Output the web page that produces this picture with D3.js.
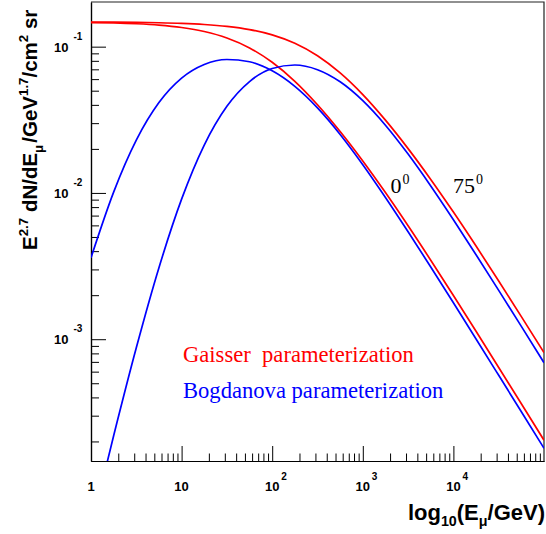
<!DOCTYPE html>
<html>
<head>
<meta charset="utf-8">
<script src="https://cdn.jsdelivr.net/npm/d3@7"></script>
<style>
  body { margin: 0; background: #fff; }
  svg { display: block; }
</style>
</head>
<body>
<svg id="chart" width="546" height="534"></svg>
<script>
// Muon energy (GeV), quarter-decade steps from 1 GeV to 100 TeV
const energy = [1, 1.778, 3.162, 5.623, 10, 17.78, 31.62, 56.23, 100, 177.8, 316.2,
                562.3, 1000, 1778, 3162, 5623, 10000, 17783, 31623, 56234, 100000];

// E^2.7 dN/dE, Gaisser parameterization, zenith 0 deg and 75 deg
const gaisser0 = [0.1462, 0.1452, 0.1434, 0.1404, 0.1352, 0.1270, 0.1147, 0.0981, 0.0782,
                  0.0580, 0.0401, 0.0263, 0.01654, 0.01006, 0.005962, 0.003467, 0.001990,
                  0.001132, 0.000641, 0.000362, 0.000204];
const gaisser75 = [0.1472, 0.1470, 0.1465, 0.1457, 0.1443, 0.1418, 0.1376, 0.1308, 0.1203,
                   0.1054, 0.0866, 0.0661, 0.0470, 0.03144, 0.02009, 0.01237, 0.007402,
                   0.004334, 0.002499, 0.001427, 0.000809];

// E^2.7 dN/dE, Bogdanova parameterization, zenith 0 deg and 75 deg
const bogdanova0 = [0.003604, 0.01013, 0.02295, 0.04145, 0.06091, 0.07549, 0.08169, 0.07881,
                    0.06837, 0.05353, 0.03814, 0.02512, 0.01561, 0.009321, 0.005430, 0.003117,
                    0.001773, 0.001004, 0.0005665, 0.0003192, 0.0001797];
const bogdanova75 = [0.0000509, 0.0002189, 0.0008739, 0.003082, 0.009066, 0.02125, 0.03912,
                     0.05775, 0.07091, 0.07492, 0.06959, 0.05750, 0.04273, 0.02904, 0.01843,
                     0.01116, 0.006558, 0.003782, 0.002158, 0.001224, 0.000691];

// Tick labels
const xMajorTicks = [1, 10, 100, 1000, 10000];
const xTickBases = ["1", "10", "10", "10", "10"];
const xTickExponents = ["", "", "2", "3", "4"];
const yMajorTicks = [0.1, 0.01, 0.001];
const yTickExponents = ["-1", "-2", "-3"];

// Legend and angle labels
const legendLabels = ["Gaisser  parameterization", "Bogdanova parameterization"];
const angleLabels = ["0", "75"];

const RED = "#ff0000", BLUE = "#0000ff";
const SANS = "'Liberation Sans', Arial, Helvetica, sans-serif";
const SERIF = "'Liberation Serif', 'Times New Roman', Times, serif";

const W = 546, H = 534;
const plot = { left: 91, top: 2, right: 544, bottom: 461 };

const svg = d3.select("#chart");
svg.append("rect").attr("width", W).attr("height", H).attr("fill", "#fff");

const x = d3.scaleLog().domain([1, 1e5]).range([plot.left, plot.right]);
const y = d3.scaleLog().domain([1.47e-4, 0.202]).range([plot.bottom, plot.top]);

svg.append("defs").append("clipPath").attr("id", "plotClip")
  .append("rect")
  .attr("x", plot.left).attr("y", plot.top)
  .attr("width", plot.right - plot.left).attr("height", plot.bottom - plot.top);

// Helper: writes text made of normal / superscript / subscript pieces
function richText(textSel, parts, baseSize) {
  let offset = 0;
  parts.forEach(p => {
    const target = p.s === "sup" ? -0.45 * baseSize : p.s === "sub" ? 0.28 * baseSize : 0;
    const ts = textSel.append("tspan").text(p.t).attr("dy", target - offset);
    if (p.s) ts.attr("font-size", 0.65 * baseSize);
    if (p.dx) ts.attr("dx", p.dx);
    offset = target;
  });
  return textSel;
}

// Minor tick positions (2..9 within each decade)
const xMinor = [];
xMajorTicks.forEach(d => { for (let m = 2; m <= 9; m++) xMinor.push(d * m); });
const yMinor = [];
[1e-4, 1e-3, 1e-2].forEach(d => {
  for (let m = 2; m <= 9; m++) if (d * m >= y.domain()[0]) yMinor.push(d * m);
});

// Bottom axis (ticks pointing into the frame)
const gx = svg.append("g").attr("transform", `translate(0,${plot.bottom})`);
gx.call(d3.axisBottom(x).tickValues(xMajorTicks).tickSizeInner(-15).tickSizeOuter(0).tickFormat(""));
gx.append("g").call(d3.axisBottom(x).tickValues(xMinor).tickSizeInner(-7.5).tickSizeOuter(0).tickFormat(""));

// Left axis
const gy = svg.append("g").attr("transform", `translate(${plot.left},0)`);
gy.call(d3.axisLeft(y).tickValues(yMajorTicks).tickSizeInner(-15).tickSizeOuter(0).tickFormat(""));
gy.append("g").call(d3.axisLeft(y).tickValues(yMinor).tickSizeInner(-8).tickSizeOuter(0).tickFormat(""));

svg.selectAll(".domain").attr("stroke", "#000").attr("stroke-width", 1.2);
svg.selectAll(".tick line").attr("stroke", "#000").attr("stroke-width", 1);

// Top and right frame edges
svg.append("path")
  .attr("d", `M${plot.left},${plot.top}H${plot.right}V${plot.bottom}`)
  .attr("fill", "none").attr("stroke", "#222").attr("stroke-width", 1.2);

// X tick labels
xMajorTicks.forEach((v, i) => {
  const cx = x(v);
  svg.append("text")
    .attr("x", cx).attr("y", 490.5)
    .attr("text-anchor", "middle")
    .attr("font-family", SANS).attr("font-weight", "bold").attr("font-size", 13)
    .text(xTickBases[i]);
  if (xTickExponents[i]) {
    svg.append("text")
      .attr("x", cx + 9).attr("y", 480)
      .attr("font-family", SANS).attr("font-weight", "bold").attr("font-size", 10)
      .text(xTickExponents[i]);
  }
});

// Y tick labels
yMajorTicks.forEach((v, i) => {
  const cy = y(v);
  svg.append("text")
    .attr("x", 68.5).attr("y", cy + 5)
    .attr("text-anchor", "end")
    .attr("font-family", SANS).attr("font-weight", "bold").attr("font-size", 13)
    .text("10");
  svg.append("text")
    .attr("x", 73.5).attr("y", cy - 7)
    .attr("font-family", SANS).attr("font-weight", "bold").attr("font-size", 10)
    .text(yTickExponents[i]);
});

// Curves
const series = [
  { values: gaisser0, color: RED },
  { values: gaisser75, color: RED },
  { values: bogdanova0, color: BLUE },
  { values: bogdanova75, color: BLUE }
];
const line = d3.line()
  .x((d, i) => x(energy[i]))
  .y(d => y(d))
  .curve(d3.curveMonotoneX);

svg.append("g").attr("clip-path", "url(#plotClip)")
  .selectAll("path")
  .data(series)
  .join("path")
  .attr("d", s => line(s.values))
  .attr("fill", "none")
  .attr("stroke", s => s.color)
  .attr("stroke-width", 1.7);

// Legend text
[[legendLabels[0], RED, 361.5], [legendLabels[1], BLUE, 398]].forEach(([t, c, yy]) => {
  svg.append("text")
    .attr("x", 183).attr("y", yy)
    .attr("xml:space", "preserve").style("white-space", "pre")
    .attr("font-family", SERIF).attr("font-size", 22.6)
    .attr("fill", c)
    .text(t);
});

// Zenith angle labels
[[angleLabels[0], 390.5], [angleLabels[1], 453]].forEach(([t, xx]) => {
  const tx = svg.append("text")
    .attr("x", xx).attr("y", 193.3)
    .attr("font-family", SERIF).attr("font-size", 22)
    .attr("fill", "#000");
  tx.append("tspan").text(t);
  tx.append("tspan").text("0").attr("font-size", 14).attr("dy", -9.5).attr("dx", 1);
});

// Y axis title
const yTitle = svg.append("text")
  .attr("transform", "translate(37,250) rotate(-90)")
  .attr("font-family", SANS).attr("font-weight", "bold").attr("font-size", 20.5)
  .attr("fill", "#000");
richText(yTitle, [
  { t: "E" }, { t: "2.7", s: "sup" }, { t: " dN/dE" }, { t: "\u03bc", s: "sub" },
  { t: "/GeV", dx: 2 }, { t: "1.7", s: "sup" }, { t: "/cm" }, { t: "2", s: "sup" }, { t: " sr" }
], 20.5);

// X axis title
const xTitle = svg.append("text")
  .attr("x", 545).attr("y", 520)
  .attr("text-anchor", "end")
  .attr("font-family", SANS).attr("font-weight", "bold").attr("font-size", 22)
  .attr("fill", "#000");
richText(xTitle, [
  { t: "log" }, { t: "10", s: "sub" }, { t: "(E" }, { t: "\u03bc", s: "sub" }, { t: "/GeV)" }
], 22);
</script>
</body>
</html>
